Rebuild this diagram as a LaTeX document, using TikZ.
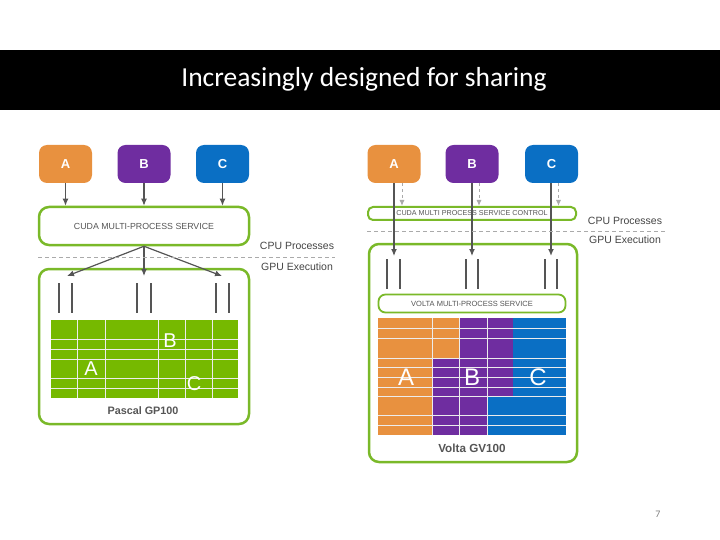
\documentclass[tikz,border=0pt]{standalone}
\usepackage{fontspec}
\setmainfont{Liberation Sans}
\newfontfamily\titlefont{Carlito}
\usetikzlibrary{arrows.meta}
\definecolor{nvgreen}{HTML}{76B900}
\definecolor{bordergreen}{HTML}{7AB929}
\definecolor{porange}{HTML}{E8913F}
\definecolor{ppurple}{HTML}{6F2DA0}
\definecolor{pblue}{HTML}{0A6FC4}
\definecolor{txtgray}{HTML}{555555}
\definecolor{lgray}{HTML}{AAAAAA}
\begin{document}
\begin{tikzpicture}[x=1pt,y=-1pt,
  proc/.style={rounded corners=8pt, minimum width=53pt, minimum height=38pt, text=white,
    font=\fontsize{13}{13}\selectfont\bfseries, inner sep=0pt},
  gbox/.style={draw=bordergreen, line width=2.5pt, rounded corners=10pt, inner sep=0pt},
  boxtext/.style={text=txtgray, font=\fontsize{8.8}{9}\selectfont},
  sidetext/.style={text=txtgray!80!black, font=\fontsize{10.5}{11}\selectfont},
  chiptext/.style={text=txtgray, font=\fontsize{10.8}{11}\selectfont\bfseries},
  arr/.style={draw=txtgray, line width=1.2pt, -{Latex[length=7pt,width=6pt]}},
  darr/.style={draw=lgray, line width=1pt, dashed, -{Latex[length=6pt,width=5pt]}},
  bar/.style={draw=txtgray, line width=1.4pt},
  sep/.style={draw=lgray, line width=0.8pt, dash pattern=on 4pt off 3pt},
  gline/.style={draw=white!85!gray, line width=0.9pt},
  bigletter/.style={text=white, font=\fontsize{20}{20}\selectfont}
]
\useasboundingbox (0,0) rectangle (720,540);
% banner
\fill[black] (0,50) rectangle (720,110);
\node[text=white, font=\titlefont\fontsize{27.5}{27.5}\selectfont] (title) at (364,79) {Increasingly designed for sharing};

% ===== LEFT: Pascal =====
\node[proc, fill=porange] (a1) at (65.5,164) {A};
\node[proc, fill=ppurple] (b1) at (144,164) {B};
\node[proc, fill=pblue] (c1) at (222.5,164) {C};
\node[gbox, minimum width=210pt, minimum height=38pt, boxtext] (mps1) at (144,226) {CUDA MULTI-PROCESS SERVICE};
\node[gbox, minimum width=210pt, minimum height=155pt] (gpu1) at (144,346.5) {};
\draw[arr] (a1.south) -- (a1.south |- mps1.north);
\draw[arr] (b1.south) -- (b1.south |- mps1.north);
\draw[arr] (c1.south) -- (c1.south |- mps1.north);
\coordinate (t1a) at (67,276);
\coordinate (t1b) at (144,276);
\coordinate (t1c) at (222,276);
\draw[arr] (mps1.south) -- (t1a);
\draw[arr] (mps1.south) -- (t1b);
\draw[arr] (mps1.south) -- (t1c);
\draw[sep] (38,257) -- (335,257);
\node[sidetext] (cpu1) at (297,246) {CPU Processes};
\node[sidetext] (gpuL1) at (297,267) {GPU Execution};
\foreach \x in {59,72,137,151,216,229} \draw[bar] (\x,283) -- (\x,313);
\fill[nvgreen] (51,320) rectangle (238,398);
\foreach \x in {77,105,158,185,212} \draw[gline] (\x,320) -- (\x,398);
\foreach \y in {339,349,359,378,388} \draw[gline] (51,\y) -- (238,\y);
\node[bigletter] (lb) at (170,341) {B};
\node[bigletter] (la) at (91,369) {A};
\node[bigletter] (lc) at (194,384) {C};
\node[chiptext] (pascal) at (143,411) {Pascal GP100};

% ===== RIGHT: Volta =====
\node[proc, fill=porange] (a2) at (394,164) {A};
\node[proc, fill=ppurple] (b2) at (472,164) {B};
\node[proc, fill=pblue] (c2) at (551.5,164) {C};
\node[gbox, line width=2pt, rounded corners=5pt, minimum width=208pt, minimum height=13pt, boxtext, font=\fontsize{7.2}{7.5}\selectfont] (ctl) at (472,213.5) {CUDA MULTI PROCESS SERVICE CONTROL};
\node[gbox, minimum width=208pt, minimum height=218pt] (gpu2) at (473,353) {};
\draw[darr] ([xshift=8pt]a2.south) -- ([xshift=8pt]a2.south |- ctl.north);
\draw[darr] ([xshift=7pt]b2.south) -- ([xshift=7pt]b2.south |- ctl.north);
\draw[darr] ([xshift=7pt]c2.south) -- ([xshift=7pt]c2.south |- ctl.north);
\coordinate (t2a) at (394,256);
\coordinate (t2b) at (472,256);
\coordinate (t2c) at (551,256);
\draw[arr] (a2.south) -- (t2a);
\draw[arr] (b2.south) -- (t2b);
\draw[arr, line width=1.6pt] ([xshift=-0.5pt]c2.south) -- (t2c);
\draw[sep] (367,231) -- (665,231);
\node[sidetext] (cpu2) at (625,221) {CPU Processes};
\node[sidetext] (gpuL2) at (625,240) {GPU Execution};
\foreach \x in {387,400,466,478,545,557} \draw[bar] (\x,259) -- (\x,289);
\node[gbox, line width=1.8pt, rounded corners=7pt, minimum width=187pt, minimum height=18pt, boxtext, font=\fontsize{7.5}{8}\selectfont] (vmps) at (472,303.5) {VOLTA MULTI-PROCESS SERVICE};
% grid
\fill[porange] (378,318) rectangle (432,435);
\fill[porange] (432,318) rectangle (459,358);
\fill[ppurple] (459,318) rectangle (513,396);
\fill[ppurple] (432,358) rectangle (487,435);
\fill[pblue] (513,318) rectangle (566,396);
\fill[pblue] (487,396) rectangle (566,435);
\foreach \x in {432,459,487} \draw[gline] (\x,318) -- (\x,435);
\foreach \y in {328,338,358,367,377,387,396,415,425} \draw[gline] (378,\y) -- (566,\y);
\node[bigletter, font=\fontsize{24}{24}\selectfont] (ra) at (406,377) {A};
\node[bigletter, font=\fontsize{24}{24}\selectfont] (rb) at (472,377) {B};
\node[bigletter, font=\fontsize{24}{24}\selectfont] (rc) at (538,377) {C};
\node[chiptext, font=\fontsize{11.7}{12}\selectfont\bfseries] (volta) at (472,448) {Volta GV100};

% page number
\node[text=gray, font=\titlefont\fontsize{10}{10}\selectfont] (pg) at (658,514) {7};
\end{tikzpicture}
\end{document}
